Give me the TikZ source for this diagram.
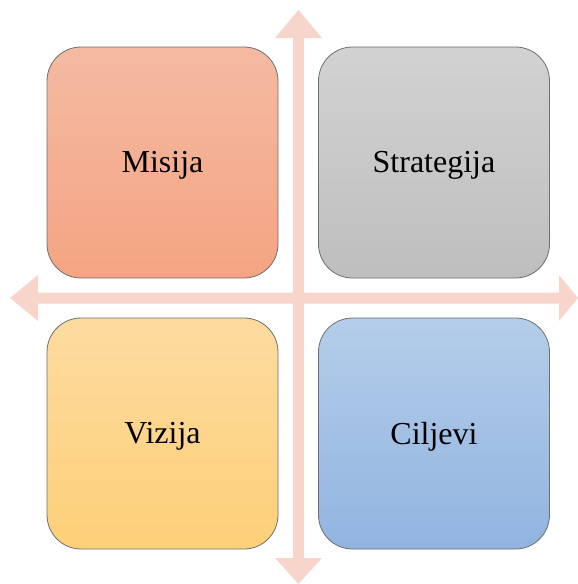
\documentclass[tikz,border=0pt]{standalone}
\usepackage{fontspec}
\setmainfont{Liberation Serif}
\definecolor{arr}{HTML}{F8D5CB}
\definecolor{edge}{HTML}{6E6E6E}
\begin{document}
\begin{tikzpicture}[x=1pt,y=-1pt,
  quad/.style={draw=edge, line width=0.8pt, rounded corners=34pt, minimum width=231pt, minimum height=231pt, inner sep=0pt},
  lbl/.style={font=\fontsize{32}{36}\selectfont, inner sep=0pt},
  arrowshape/.style={fill=arr, draw=none}]
\useasboundingbox (0,0) rectangle (578,584);
% vertical double arrow
\fill[arrowshape] (298.5,10) -- (322,38) -- (304,38) -- (304,558) -- (322,558) -- (298.5,584) -- (275,558) -- (293,558) -- (293,38) -- (275,38) -- cycle;
% horizontal double arrow
\fill[arrowshape] (10,298) -- (38,275) -- (38,292.5) -- (559,292.5) -- (559,275) -- (578,298) -- (559,321) -- (559,303.5) -- (38,303.5) -- (38,321) -- cycle;
\node[quad, top color={rgb,255:red,244;green,186;blue,162}, bottom color={rgb,255:red,244;green,164;blue,130}] (misija) at (162.5,162.5) {};
\node[quad, top color={rgb,255:red,210;green,210;blue,210}, bottom color={rgb,255:red,190;green,190;blue,190}] (strategija) at (434,162.5) {};
\node[quad, top color={rgb,255:red,253;green,219;blue,160}, bottom color={rgb,255:red,253;green,208;blue,120}] (vizija) at (162.5,433.5) {};
\node[quad, top color={rgb,255:red,180;green,205;blue,234}, bottom color={rgb,255:red,145;green,180;blue,224}] (ciljevi) at (434,433.5) {};
\node[lbl, yshift=-3pt] (tmisija) at (misija.center) {Misija};
\node[lbl, yshift=-3pt] (tstrategija) at (strategija.center) {Strategija};
\node[lbl, yshift=-3pt] (tvizija) at (vizija.center) {Vizija};
\node[lbl, yshift=-3pt] (tciljevi) at (ciljevi.center) {Ciljevi};
\end{tikzpicture}
\end{document}
